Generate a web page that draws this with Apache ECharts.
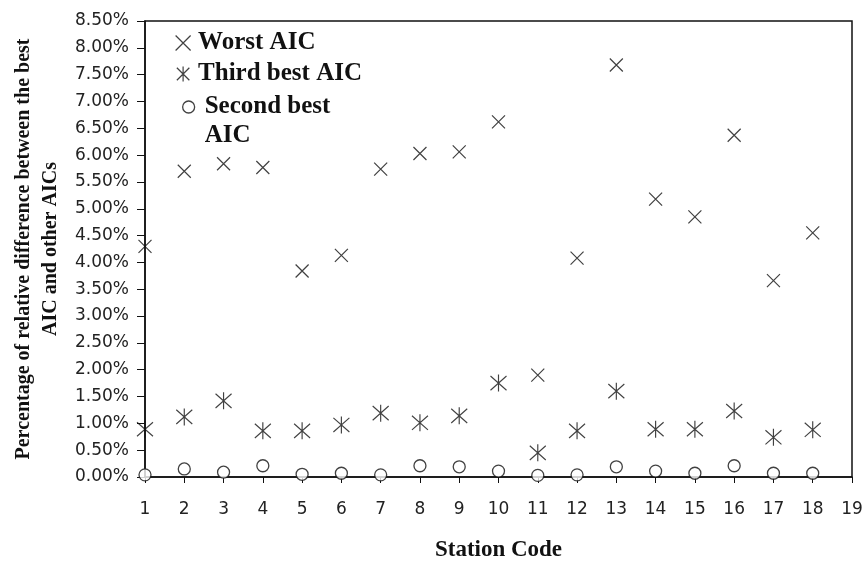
<!DOCTYPE html>
<html>
<head>
<meta charset="utf-8">
<script src="https://cdn.jsdelivr.net/npm/echarts@6/dist/echarts.min.js"></script>
<style>
html,body{margin:0;padding:0;background:#fff;}
#chart{width:864px;height:562px;}
</style>
</head>
<body>
<div id="chart"></div>
<script>
// Station codes
var stations = [1,2,3,4,5,6,7,8,9,10,11,12,13,14,15,16,17,18];
// Values in percent
var worstAIC = [4.30,5.70,5.84,5.77,3.84,4.13,5.74,6.03,6.06,6.62,1.90,4.08,7.68,5.18,4.85,6.37,3.66,4.55];
var thirdBestAIC = [0.89,1.12,1.42,0.86,0.86,0.97,1.19,1.01,1.14,1.75,0.45,0.86,1.60,0.89,0.89,1.23,0.74,0.88];
var secondBestAIC = [0.04,0.15,0.09,0.21,0.05,0.07,0.04,0.21,0.19,0.11,0.03,0.04,0.19,0.11,0.07,0.21,0.07,0.07];
var seriesNames = ['Worst AIC','Third best AIC','Second best AIC'];

function pairs(vals){ return stations.map(function(s,i){ return [s, vals[i]]; }); }

var xPath = 'path://M0,0L10,10M10,0L0,10';
var starPath = 'path://M0,0L10,10M10,0L0,10M5,-1L5,11';
// circle drawn at top of a taller box so the legend icon lines up with the first text line
var circleTopPath = 'path://M0,5A5,5 0 1 1 10,5A5,5 0 1 1 0,5ZM5,34.2L5,34.2';
var strokeStyle = {color:'rgba(0,0,0,0)', borderColor:'#111', borderWidth:1.2};
var circleStyle = {color:'#fff', borderColor:'#111', borderWidth:1.3};
var legendText = {fontFamily:'Liberation Serif', fontWeight:'bold', fontSize:25, color:'#111', lineHeight:29};

var chart = echarts.init(document.getElementById('chart'), null, {renderer:'canvas'});
chart.setOption({
  animation:false,
  backgroundColor:'#fff',
  grid:{left:145, right:12, top:21, bottom:85, show:true, borderColor:'#111', borderWidth:1.5,
        backgroundColor:'transparent', containLabel:false, outerBoundsMode:'none'},
  legend:[{
    orient:'vertical', left:175, top:28.5, padding:0, itemGap:2, itemWidth:16, itemHeight:15,
    textStyle:Object.assign({padding:[0,0,0,2]}, legendText),
    data:[
      {name:seriesNames[0], icon:xPath, itemStyle:strokeStyle},
      {name:seriesNames[1], icon:starPath, itemStyle:strokeStyle}
    ]
  },{
    orient:'vertical', left:182, top:92.5, padding:0, itemGap:2, itemWidth:12, itemHeight:41,
    textStyle:Object.assign({padding:[0,0,0,5]}, legendText),
    formatter:function(n){ return 'Second best\nAIC'; },
    data:[
      {name:seriesNames[2], icon:circleTopPath, itemStyle:circleStyle}
    ]
  }],
  xAxis:{
    type:'value', min:1, max:19, interval:1,
    name:'Station Code', nameLocation:'middle', nameGap:62,
    nameTextStyle:{fontFamily:'Liberation Serif', fontWeight:'bold', fontSize:23, color:'#111'},
    axisLine:{onZero:false, lineStyle:{color:'#111', width:1.5}},
    axisTick:{show:true, length:6, lineStyle:{color:'#111'}},
    axisLabel:{fontFamily:'DejaVu Sans', fontSize:17, color:'#222', margin:24},
    splitLine:{show:false}
  },
  yAxis:{
    type:'value', min:0, max:8.5, interval:0.5,
    name:'Percentage of relative difference between the best\nAIC and other AICs',
    nameLocation:'middle', nameRotate:90, nameGap:75,
    nameTextStyle:{fontFamily:'Liberation Serif', fontWeight:'bold', fontSize:20, color:'#111', lineHeight:27},
    axisLine:{show:true, lineStyle:{color:'#111', width:1.5}},
    axisTick:{show:true, length:8, lineStyle:{color:'#111'}},
    axisLabel:{fontFamily:'DejaVu Sans', fontSize:17, color:'#222', margin:16,
      formatter:function(v){ return v.toFixed(2)+'%'; }},
    splitLine:{show:false}
  },
  series:[
    {name:seriesNames[0], type:'scatter', data:pairs(worstAIC), symbol:xPath, symbolSize:13, itemStyle:strokeStyle},
    {name:seriesNames[1], type:'scatter', data:pairs(thirdBestAIC), symbol:starPath, symbolSize:[16,17], itemStyle:strokeStyle},
    {name:seriesNames[2], type:'scatter', data:pairs(secondBestAIC), symbol:'circle', symbolSize:12, itemStyle:circleStyle}
  ]
});
</script>
</body>
</html>
